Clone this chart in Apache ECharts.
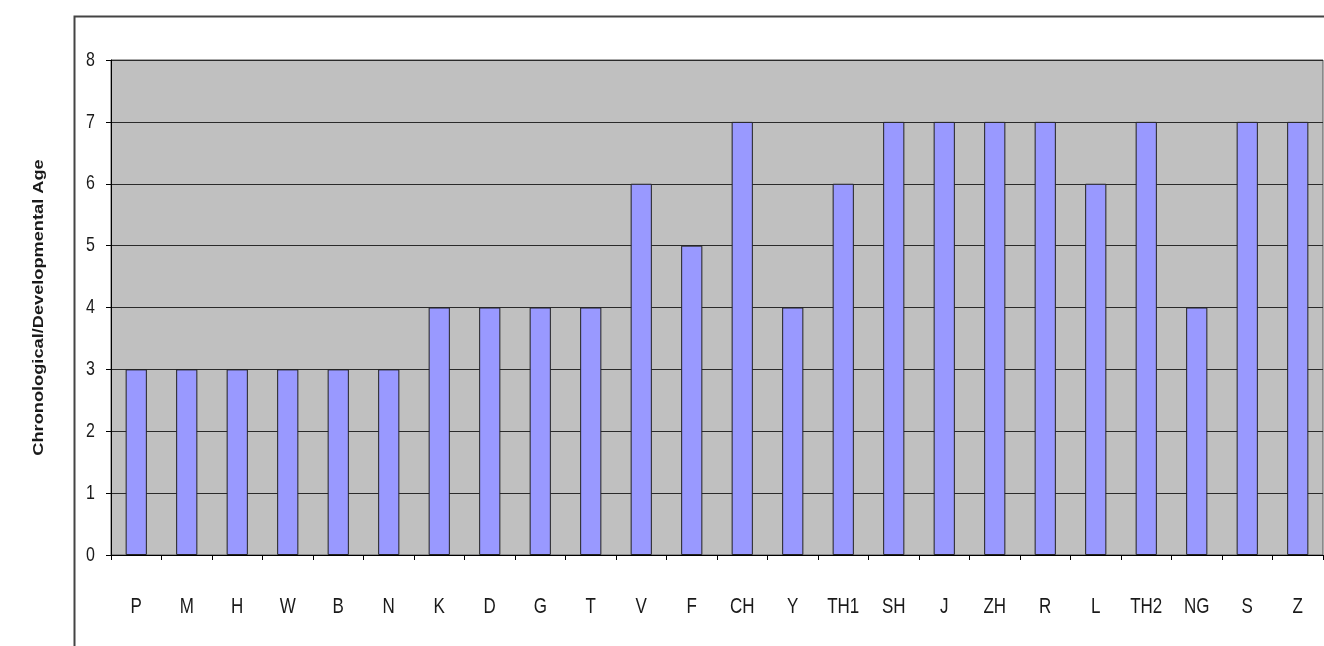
<!DOCTYPE html>
<html><head><meta charset="utf-8">
<script src="https://cdn.jsdelivr.net/npm/echarts@6/dist/echarts.min.js"></script>
<style>html,body{margin:0;padding:0;background:#fff}#c{width:1324px;height:646px}</style>
</head><body><div id="c"></div>
<script>
const categories = ['P','M','H','W','B','N','K','D','G','T','V','F','CH','Y','TH1','SH','J','ZH','R','L','TH2','NG','S','Z'];
const ages = [3,3,3,3,3,3,4,4,4,4,6,5,7,4,6,7,7,7,7,6,7,4,7,7];
const yTicks = [0,1,2,3,4,5,6,7,8];
const yTitle = 'Chronological/Developmental Age';
const FONT = '"Liberation Sans",Arial,sans-serif';
const STRETCH = 1.3; // the reference's text is drawn tall and narrow

const chart = echarts.init(document.getElementById('c'));
chart.setOption({
  animation: false,
  grid: {left: 111, top: 60, right: 1, bottom: 91, show: true, backgroundColor: '#c0c0c0', borderWidth: 1, borderColor: '#555'},
  xAxis: {
    type: 'category', data: categories,
    axisLine: {lineStyle: {color: '#000', width: 1}},
    axisTick: {show: true, inside: false, length: 5, lineStyle: {color: '#000'}},
    axisLabel: {show: false}
  },
  yAxis: {
    type: 'value', min: 0, max: 8, interval: 1,
    axisLine: {show: true, lineStyle: {color: '#000', width: 1}},
    axisTick: {show: true, length: 5, lineStyle: {color: '#000'}},
    axisLabel: {show: false},
    splitLine: {show: true, lineStyle: {color: '#2a2a2a', width: 1}}
  },
  series: [{
    type: 'bar', data: ages, barWidth: '42%',
    itemStyle: {color: '#9999ff', borderColor: '#222', borderWidth: 1}
  }]
});

// Axis texts, placed through the chart's own scales, drawn condensed like the reference
const g = [{
  type: 'rect', left: 72, top: 14, z: -10,
  shape: {width: 1300, height: 700},
  style: {fill: 'none', stroke: '#444', lineWidth: 2}
}];
const c0 = chart.convertToPixel({xAxisIndex: 0}, 0);
const c1 = chart.convertToPixel({xAxisIndex: 0}, 1);
const axisX = c0 - (c1 - c0) / 2;          // left edge of the category axis = y axis line
const ay0 = chart.convertToPixel({yAxisIndex: 0}, 0);
const yTop = chart.convertToPixel({yAxisIndex: 0}, 8);
categories.forEach((c, i) => {
  const x = chart.convertToPixel({xAxisIndex: 0}, i);
  g.push({type: 'text', x: x, y: ay0 + 52, scaleY: STRETCH, z: 10,
    style: {text: c, fill: '#1a1a1a', fontSize: 17, fontFamily: FONT, align: 'center', verticalAlign: 'middle'}});
});
yTicks.forEach(v => {
  const y = chart.convertToPixel({yAxisIndex: 0}, v);
  g.push({type: 'text', x: axisX - 16, y: y, scaleY: STRETCH, z: 10,
    style: {text: String(v), fill: '#1a1a1a', fontSize: 16, fontFamily: FONT, align: 'right', verticalAlign: 'middle'}});
});
g.push({type: 'text', x: axisX - 72, y: (ay0 + yTop) / 2, rotation: Math.PI / 2, scaleX: STRETCH, z: 10,
  style: {text: yTitle, fill: '#1a1a1a', fontSize: 14, fontWeight: 'bold', fontFamily: FONT, align: 'center', verticalAlign: 'middle'}});
chart.setOption({graphic: g});
</script></body></html>
